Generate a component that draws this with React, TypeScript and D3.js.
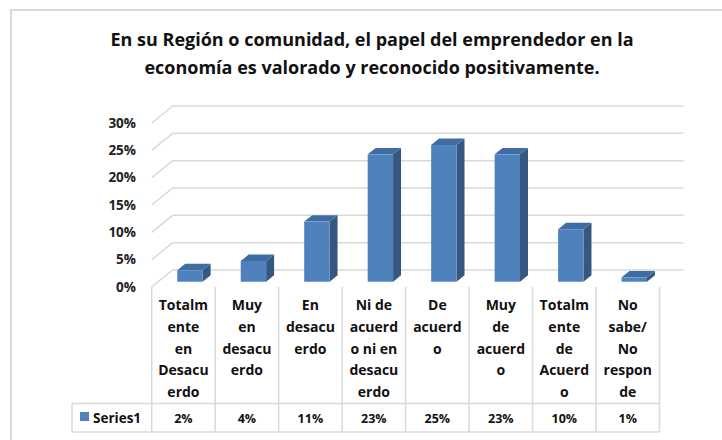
import * as d3 from 'd3';
import { useRef, useEffect } from 'react';

const title = [
  'En su Región o comunidad, el papel del emprendedor en la',
  'economía es valorado y reconocido positivamente.',
];
const categories = [
  'Totalmente en Desacuerdo',
  'Muy en desacuerdo',
  'En desacuerdo',
  'Ni de acuerdo ni en desacuerdo',
  'De acuerdo',
  'Muy de acuerdo',
  'Totalmente de Acuerdo',
  'No sabe/ No responde',
];
// how the category labels wrap inside their table cells
const categoryLines = [
  ['Totalm', 'ente', 'en', 'Desacu', 'erdo'],
  ['Muy', 'en', 'desacu', 'erdo'],
  ['En', 'desacu', 'erdo'],
  ['Ni de', 'acuerd', 'o ni en', 'desacu', 'erdo'],
  ['De', 'acuerd', 'o'],
  ['Muy', 'de', 'acuerd', 'o'],
  ['Totalm', 'ente', 'de', 'Acuerd', 'o'],
  ['No', 'sabe/', 'No', 'respon', 'de'],
];
const seriesName = 'Series1';
const values = [0.021, 0.038, 0.11, 0.233, 0.25, 0.233, 0.096, 0.008];
const yTicks = [0, 0.05, 0.1, 0.15, 0.2, 0.25, 0.3];

const FONT = '"Open Sans", Lato, sans-serif';
const GRID = '#d9d9d9';

export default function App() {
  const svgRef = useRef<SVGSVGElement | null>(null);

  useEffect(() => {
    const width = 722;
    const height = 440;
    const svg = d3.select(svgRef.current);
    svg.selectAll('*').remove();
    svg.attr('width', width).attr('height', height);

    // fake 3D: depth offset of the floor
    const dx = 21;
    const dy = -17;
    const x = d3.scaleBand<string>().domain(categories).range([151.7, 659.5]);
    const y = d3.scaleLinear().domain([0, 0.3]).range([287, 123]);
    const pct = d3.format('.0%');

    // chart frame
    svg
      .append('path')
      .attr('d', `M11,${height} V10 H${width}`)
      .attr('fill', 'none')
      .attr('stroke', GRID)
      .attr('stroke-width', 2);

    // title
    svg
      .append('text')
      .attr('text-anchor', 'middle')
      .attr('font-family', FONT)
      .attr('font-weight', 700)
      .attr('font-size', 18)
      .attr('fill', '#111')
      .selectAll('tspan')
      .data(title)
      .join('tspan')
      .attr('x', 372)
      .attr('y', (_, i) => 46 + i * 28)
      .text((d) => d);

    // gridlines on back wall + side wall
    const [x0, x1] = x.range();
    yTicks.forEach((t) => {
      svg
        .append('path')
        .attr('d', `M${x0},${y(t)} L${x0 + dx},${y(t) + dy} H${x1 + dx + 3}`)
        .attr('fill', 'none')
        .attr('stroke', GRID)
        .attr('stroke-width', 1.5);

      svg
        .append('text')
        .attr('x', 136)
        .attr('y', y(t))
        .attr('dy', '0.35em')
        .attr('text-anchor', 'end')
        .attr('font-family', FONT)
        .attr('font-weight', 700)
        .attr('font-size', 13.5)
        .attr('fill', '#222')
        .text(pct(t));
    });

    // bars
    const z0 = 0.31;
    const z1 = 0.69;
    const bw = x.bandwidth() * 0.4;
    const g = svg.append('g');
    categories.forEach((c, i) => {
      const v = values[i];
      const cx = (x(c) ?? 0) + x.bandwidth() / 2;
      const fl = cx - bw / 2 + z0 * dx;
      const fr = fl + bw;
      const fb = y(0) + z0 * dy;
      const ft = y(v) + z0 * dy;
      const ox = (z1 - z0) * dx;
      const oy = (z1 - z0) * dy;

      g.append('path')
        .attr('d', `M${fr},${ft} L${fr + ox},${ft + oy} V${fb + oy} L${fr},${fb} Z`)
        .attr('fill', '#34587f');
      g.append('path')
        .attr('d', `M${fl},${ft} H${fr} L${fr + ox},${ft + oy} H${fl + ox} Z`)
        .attr('fill', '#3f6ca3');
      g.append('rect')
        .attr('x', fl)
        .attr('y', ft)
        .attr('width', bw)
        .attr('height', fb - ft)
        .attr('fill', '#4f81bd');
    });

    // data table
    const rowTop = 403.5;
    const rowBottom = 432;
    const tableLeft = 72;
    const lines = svg.append('g').attr('stroke', GRID).attr('stroke-width', 1.5);
    [...categories.map((c) => x(c) ?? 0), x1].forEach((bx) => {
      lines.append('line').attr('x1', bx).attr('x2', bx).attr('y1', y(0)).attr('y2', rowBottom);
    });
    lines.append('line').attr('x1', tableLeft).attr('x2', x1).attr('y1', rowTop).attr('y2', rowTop);
    lines.append('line').attr('x1', tableLeft).attr('x2', x1).attr('y1', rowBottom).attr('y2', rowBottom);
    lines.append('line').attr('x1', tableLeft).attr('x2', tableLeft).attr('y1', rowTop).attr('y2', rowBottom);

    categories.forEach((c, i) => {
      const cx = (x(c) ?? 0) + x.bandwidth() / 2;
      svg
        .append('text')
        .attr('text-anchor', 'middle')
        .attr('font-family', FONT)
        .attr('font-weight', 700)
        .attr('font-size', 14)
        .attr('fill', '#111')
        .selectAll('tspan')
        .data(categoryLines[i])
        .join('tspan')
        .attr('x', cx)
        .attr('y', (_, k) => 310 + k * 21.8)
        .text((d) => d);

      svg
        .append('text')
        .attr('x', cx)
        .attr('y', 423)
        .attr('text-anchor', 'middle')
        .attr('font-family', FONT)
        .attr('font-weight', 700)
        .attr('font-size', 12.5)
        .attr('fill', '#111')
        .text(pct(values[i]));
    });

    // legend key in table
    svg.append('rect').attr('x', 80).attr('y', 412).attr('width', 9).attr('height', 9).attr('fill', '#4f81bd');
    svg
      .append('text')
      .attr('x', 93)
      .attr('y', 423)
      .attr('font-family', FONT)
      .attr('font-weight', 700)
      .attr('font-size', 13.5)
      .attr('fill', '#111')
      .text(seriesName);
  }, []);

  return (
    <div style={{ position: 'absolute', left: 0, top: 0 }}>
      <svg ref={svgRef} style={{ display: 'block' }} />
    </div>
  );
}
